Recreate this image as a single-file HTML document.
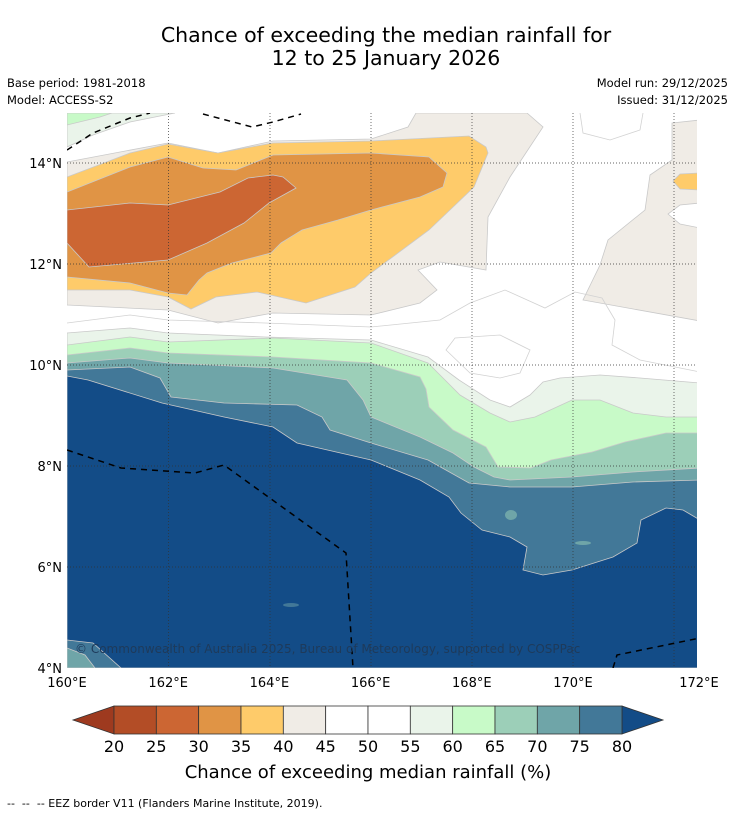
<!DOCTYPE html>
<html><head><meta charset="utf-8"><style>
html,body{margin:0;padding:0;background:#fff;}
svg{display:block;font-family:"DejaVu Sans","Liberation Sans",sans-serif;}
</style></head><body>
<svg id="fig" width="736" height="816" viewBox="0 0 736 816">
<text x="386" y="42" font-size="20.5" text-anchor="middle" fill="#000">Chance of exceeding the median rainfall for</text>
<text x="386" y="65" font-size="20.5" text-anchor="middle" fill="#000">12 to 25 January 2026</text>
<text x="7" y="87" font-size="11.5">Base period: 1981-2018</text>
<text x="7" y="104" font-size="11.5">Model: ACCESS-S2</text>
<text x="728" y="87" font-size="11.5" text-anchor="end">Model run: 29/12/2025</text>
<text x="728" y="104" font-size="11.5" text-anchor="end">Issued: 31/12/2025</text>

<defs><clipPath id="mapclip"><rect x="67" y="113" width="630" height="555"/></clipPath></defs>
<g clip-path="url(#mapclip)" stroke="#c9c9c9" stroke-width="0.8">
<rect x="67" y="113" width="630" height="555" fill="#fff" stroke="none"/>
<path fill="#eaf4ea" d="M67,113 L67,147 L93,135 L130,122 L175,113 Z"/>
<path fill="#c8fac8" d="M67,113 L67,125 L100,117 L112,113 Z"/>
<path fill="#f0ece6" d="M67,162 L168,143 L218,153 L273,141 L371,139 L408,127 L416,113 L527,113 L543,127 L510,177 L488,217 L486,270 L440,262 L418,270 L437,290 L420,303 L371,315 L273,313 L218,323 L168,310 L67,305 Z"/>
<path fill="#f0ece6" d="M672,123 L700,120 L700,321 L583,300 L600,265 L608,240 L645,210 L650,175 L672,160 Z"/>
<path fill="#fff" d="M700,203 L680,205 L668,214 L680,224 L700,228 Z"/>
<path fill="#fecb6a" d="M700,173 L680,174 L673,181 L680,189 L700,190 Z"/>
<path fill="#fecb6a" d="M67,177 L130,153 L168,144 L218,153 L273,143 L371,141 L469,136 L486,147 L488,153 L474,187 L429,230 L371,273 L355,287 L306,303 L257,292 L216,297 L191,309 L168,297 L130,290 L67,290 Z"/>
<path fill="#e09445" d="M67,192 L130,167 L168,157 L203,168 L236,170 L273,155 L371,153 L429,157 L447,173 L443,187 L420,197 L371,210 L338,220 L302,230 L281,243 L271,253 L232,263 L207,273 L199,280 L187,295 L168,293 L130,283 L67,277 Z"/>
<path fill="#cc6633" d="M67,210 L130,203 L168,205 L220,192 L248,178 L273,175 L283,177 L296,188 L269,203 L244,223 L207,243 L168,260 L134,263 L89,267 L67,243 Z"/>
<path fill="#eaf4ea" d="M67,333 L130,328 L168,333 L265,337 L371,340 L428,357 L459,380 L490,400 L510,407 L530,395 L543,382 L560,378 L600,375 L640,378 L700,383 L700,668 L67,668 Z"/>
<path fill="#c8fac8" d="M67,345 L130,337 L168,342 L273,338 L371,343 L428,363 L445,380 L460,395 L490,413 L510,422 L535,417 L572,400 L600,400 L633,413 L666,417 L700,417 L700,668 L67,668 Z"/>
<path fill="#9ccfb8" d="M67,355 L130,348 L168,353 L273,357 L371,363 L420,377 L426,389 L429,407 L453,430 L486,447 L498,467 L531,468 L551,460 L592,452 L625,442 L666,433 L700,433 L700,668 L67,668 Z"/>
<path fill="#6fa5a8" d="M67,363 L130,358 L168,363 L273,368 L347,380 L363,400 L371,417 L420,437 L453,453 L474,467 L494,477 L510,480 L572,477 L633,472 L700,468 L700,668 L67,668 Z"/>
<path fill="#427898" d="M67,370 L130,367 L160,378 L171,397 L224,403 L297,405 L322,417 L330,430 L371,443 L428,460 L469,483 L510,487 L572,487 L633,482 L700,480 L700,668 L67,668 Z"/>
<path fill="#134c87" d="M67,376 L88,380 L162,403 L224,417 L273,427 L297,443 L371,460 L420,480 L449,497 L461,513 L482,530 L510,537 L527,547 L523,570 L543,575 L572,570 L613,557 L637,543 L641,520 L666,508 L683,510 L700,520 L700,668 L67,668 Z"/>
<path fill="#427898" d="M67,640 L93,643 L121,668 L67,668 Z"/>
<path fill="#6fa5a8" d="M67,648 L85,655 L95,668 L67,668 Z"/>
<ellipse cx="511" cy="515" rx="6" ry="5" fill="#6fa5a8" stroke="none"/>
<ellipse cx="583" cy="543" rx="8" ry="2" fill="#6fa5a8" stroke="none"/>
<ellipse cx="291" cy="605" rx="8" ry="2" fill="#427898" stroke="none"/>
<g fill="none" stroke="#d2d2d2" stroke-width="0.8">
<path d="M67,323 L130,315 L168,320 L265,323 L371,327 L440,320 L470,303 L505,290 L545,308 L575,292 L602,298 L615,320 L612,345 L640,360 L700,372"/>
<path d="M446,350 L455,338 L500,335 L530,350 L520,373 L500,378 L470,373 Z"/>
<path d="M580,113 L583,133 L610,140 L640,130 L643,113"/>
</g>
<g stroke="#333" stroke-width="0.7" stroke-dasharray="1,2">
<line x1="168.5" y1="113" x2="168.5" y2="668"/><line x1="270" y1="113" x2="270" y2="668"/>
<line x1="371" y1="113" x2="371" y2="668"/><line x1="472" y1="113" x2="472" y2="668"/>
<line x1="573" y1="113" x2="573" y2="668"/><line x1="674" y1="113" x2="674" y2="668"/>
<line x1="67" y1="163" x2="697" y2="163"/><line x1="67" y1="264" x2="697" y2="264"/>
<line x1="67" y1="365" x2="697" y2="365"/><line x1="67" y1="466" x2="697" y2="466"/>
<line x1="67" y1="567" x2="697" y2="567"/>
</g>
<g fill="none" stroke="#000" stroke-width="1.5" stroke-dasharray="6,5">
<path d="M67,150 L93,133 L130,118 L150,113"/>
<path d="M203,114 L252,127 L273,122 L301,114"/>
<path d="M67,450 L121,468 L195,473 L224,465 L346,553 L353,668"/>
<path d="M613,668 L617,655 L700,638"/>
</g>
<text x="75" y="653" font-size="12" fill="#1e3a5a" stroke="none">© Commonwealth of Australia 2025, Bureau of Meteorology, supported by COSPPac</text>
</g>
<g id="axes" font-size="13" fill="#000"></g>
<g id="cbar"></g>
<text x="368" y="778" font-size="18" text-anchor="middle">Chance of exceeding median rainfall (%)</text>
<text x="7" y="807" font-size="11" xml:space="preserve">--  --  -- EEZ border V11 (Flanders Marine Institute, 2019).</text>
</svg>
<script>
const lonTicks = [160, 162, 164, 166, 168, 170, 172];
const latTicks = [14, 12, 10, 8, 6, 4];
const cbarLevels = [20, 25, 30, 35, 40, 45, 50, 55, 60, 65, 70, 75, 80];
const cbarColors = ["#b34d26","#cc6633","#e09445","#fecb6a","#f0ece6","#ffffff","#ffffff","#eaf4ea","#c8fac8","#9ccfb8","#6fa5a8","#427898"];
const cbarUnder = "#9e3a1f";
const cbarOver = "#134c87";
const NS = "http://www.w3.org/2000/svg";
function lonX(l){ return l === 172 ? 699 : 67 + (l - 160) * 50.6; }
function latY(l){ return 668 - (l - 4) * 50.5; }
const axes = document.getElementById('axes');
lonTicks.forEach(l => {
  const t = document.createElementNS(NS, 'text');
  t.setAttribute('x', lonX(l)); t.setAttribute('y', 687); t.setAttribute('text-anchor', 'middle');
  t.textContent = l + '°E';
  
  
  axes.appendChild(t);
});
latTicks.forEach(l => {
  const t = document.createElementNS(NS, 'text');
  t.setAttribute('x', 62); t.setAttribute('y', latY(l) + 5); t.setAttribute('text-anchor', 'end');
  t.textContent = l + '°N';
  
  
  axes.appendChild(t);
});
const cb = document.getElementById('cbar');
const cx0 = 114, cx1 = 622, cy0 = 706, cy1 = 734;
const lo = cbarLevels[0], hi = cbarLevels[cbarLevels.length - 1];
function cbX(v){ return cx0 + (v - lo) / (hi - lo) * (cx1 - cx0); }
const under = document.createElementNS(NS, 'polygon');
under.setAttribute('points', `${cx0},${cy0} 73,${(cy0+cy1)/2} ${cx0},${cy1}`);
under.setAttribute('fill', cbarUnder); under.setAttribute('stroke', '#333'); under.setAttribute('stroke-width', '0.8');


cb.appendChild(under);
const over = document.createElementNS(NS, 'polygon');
over.setAttribute('points', `${cx1},${cy0} 663,${(cy0+cy1)/2} ${cx1},${cy1}`);
over.setAttribute('fill', cbarOver); over.setAttribute('stroke', '#333'); over.setAttribute('stroke-width', '0.8');


cb.appendChild(over);
cbarColors.forEach((c, i) => {
  const r = document.createElementNS(NS, 'rect');
  const x = cbX(cbarLevels[i]), w = cbX(cbarLevels[i+1]) - x;
  r.setAttribute('x', x); r.setAttribute('y', cy0); r.setAttribute('width', w); r.setAttribute('height', cy1 - cy0);
  r.setAttribute('fill', c); r.setAttribute('stroke', '#333'); r.setAttribute('stroke-width', '0.8');
  
  
  cb.appendChild(r);
});
cbarLevels.forEach(v => {
  const t = document.createElementNS(NS, 'text');
  t.setAttribute('x', cbX(v)); t.setAttribute('y', 752); t.setAttribute('text-anchor', 'middle'); t.setAttribute('font-size', '16');
  t.textContent = v;
  
  
  cb.appendChild(t);
});
</script>
</body></html>
